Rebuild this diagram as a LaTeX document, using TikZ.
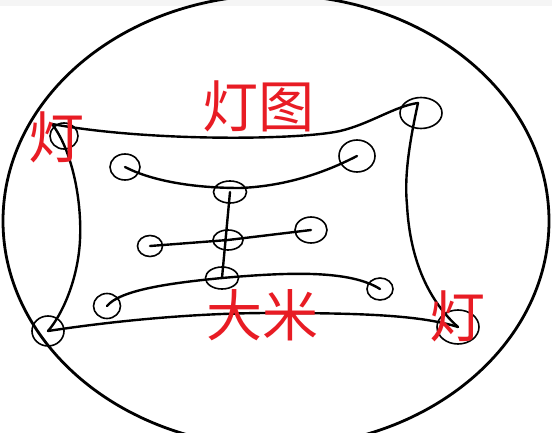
\documentclass[tikz,border=0pt]{standalone}
\usepackage{fontspec}
\newfontfamily\cjk{Noto Sans CJK SC}
\usetikzlibrary{shapes.geometric}
\definecolor{lampred}{RGB}{232,28,36}
\tikzset{
  lamp/.style={draw, ellipse, inner sep=0pt, line width=0.8pt},
  wire/.style={line width=1.2pt, line cap=round},
  lbl/.style={text=lampred, font=\cjk\fontsize{28}{30}\selectfont, inner sep=0pt},
}
\begin{document}
\begin{tikzpicture}[x=0.5pt, y=-0.5pt]
\useasboundingbox (0,0) rectangle (552,433);
\clip (0,0) rectangle (552,433);
\fill[white] (0,0) rectangle (552,433);
\fill[gray!8] (0,0) rectangle (552,6);
% outer ellipse
\draw[line width=1.4pt] (276,221) ellipse [x radius=273, y radius=226];
% lamps
\node[lamp, minimum width=14pt, minimum height=13pt] (L1) at (64,136) {};
\node[lamp, minimum width=15pt, minimum height=13pt] (L2) at (125,167) {};
\node[lamp, minimum width=12.5pt, minimum height=10.5pt] (L3) at (150,246) {};
\node[lamp, minimum width=13.5pt, minimum height=12.5pt] (L4) at (107,306) {};
\node[lamp, minimum width=16pt, minimum height=15pt] (L5) at (48,331) {};
\node[lamp, minimum width=21pt, minimum height=15.5pt] (L6) at (421,113) {};
\node[lamp, minimum width=18pt, minimum height=16pt] (L7) at (357,156) {};
\node[lamp, minimum width=16.5pt, minimum height=11pt] (L8) at (230,192) {};
\node[lamp, minimum width=15pt, minimum height=10pt] (L9) at (228,240) {};
\node[lamp, minimum width=16pt, minimum height=13pt] (L10) at (311,230) {};
\node[lamp, minimum width=16.5pt, minimum height=11pt] (L11) at (222,278) {};
\node[lamp, minimum width=13pt, minimum height=11pt] (L12) at (380,289) {};
\node[lamp, minimum width=21pt, minimum height=17pt] (L13) at (458,327) {};
\coordinate (L1t) at (52,124);
\coordinate (L6t) at (418,103);
% wires
\draw[wire] (L1t) .. controls (150,142) and (300,140) .. (340,131) .. controls (370,124) and (395,106) .. (L6t);
\draw[wire] (L6t) .. controls (410,140) and (404,175) .. (407,205) .. controls (410,262) and (430,302) .. (L13.center);
\draw[wire] (L1t) .. controls (72,150) and (82,200) .. (80,240) .. controls (78,280) and (62,315) .. (L5.center);
\draw[wire] (L5.center) .. controls (120,320) and (200,313) .. (270,313) .. controls (360,313) and (420,315) .. (L13.center);
\draw[wire] (L2.center) .. controls (150,180) and (190,188) .. (240,188) .. controls (290,186) and (330,170) .. (L7.center);
\draw[wire] (L8.center) -- (L11.center);
\draw[wire] (L3.center) -- (L9.center) -- (L10.center);
\draw[wire] (L4.center) .. controls (120,290) and (170,283) .. (L11.center) .. controls (290,272) and (350,270) .. (L12.center);
% labels
\node[lbl] (T1) at (258,106) {灯图};
\node[lbl] (T2) at (56,137) {灯};
\node[lbl] (T3) at (262,315) {大米};
\node[lbl] (T4) at (457,316) {灯};
\end{tikzpicture}
\end{document}
